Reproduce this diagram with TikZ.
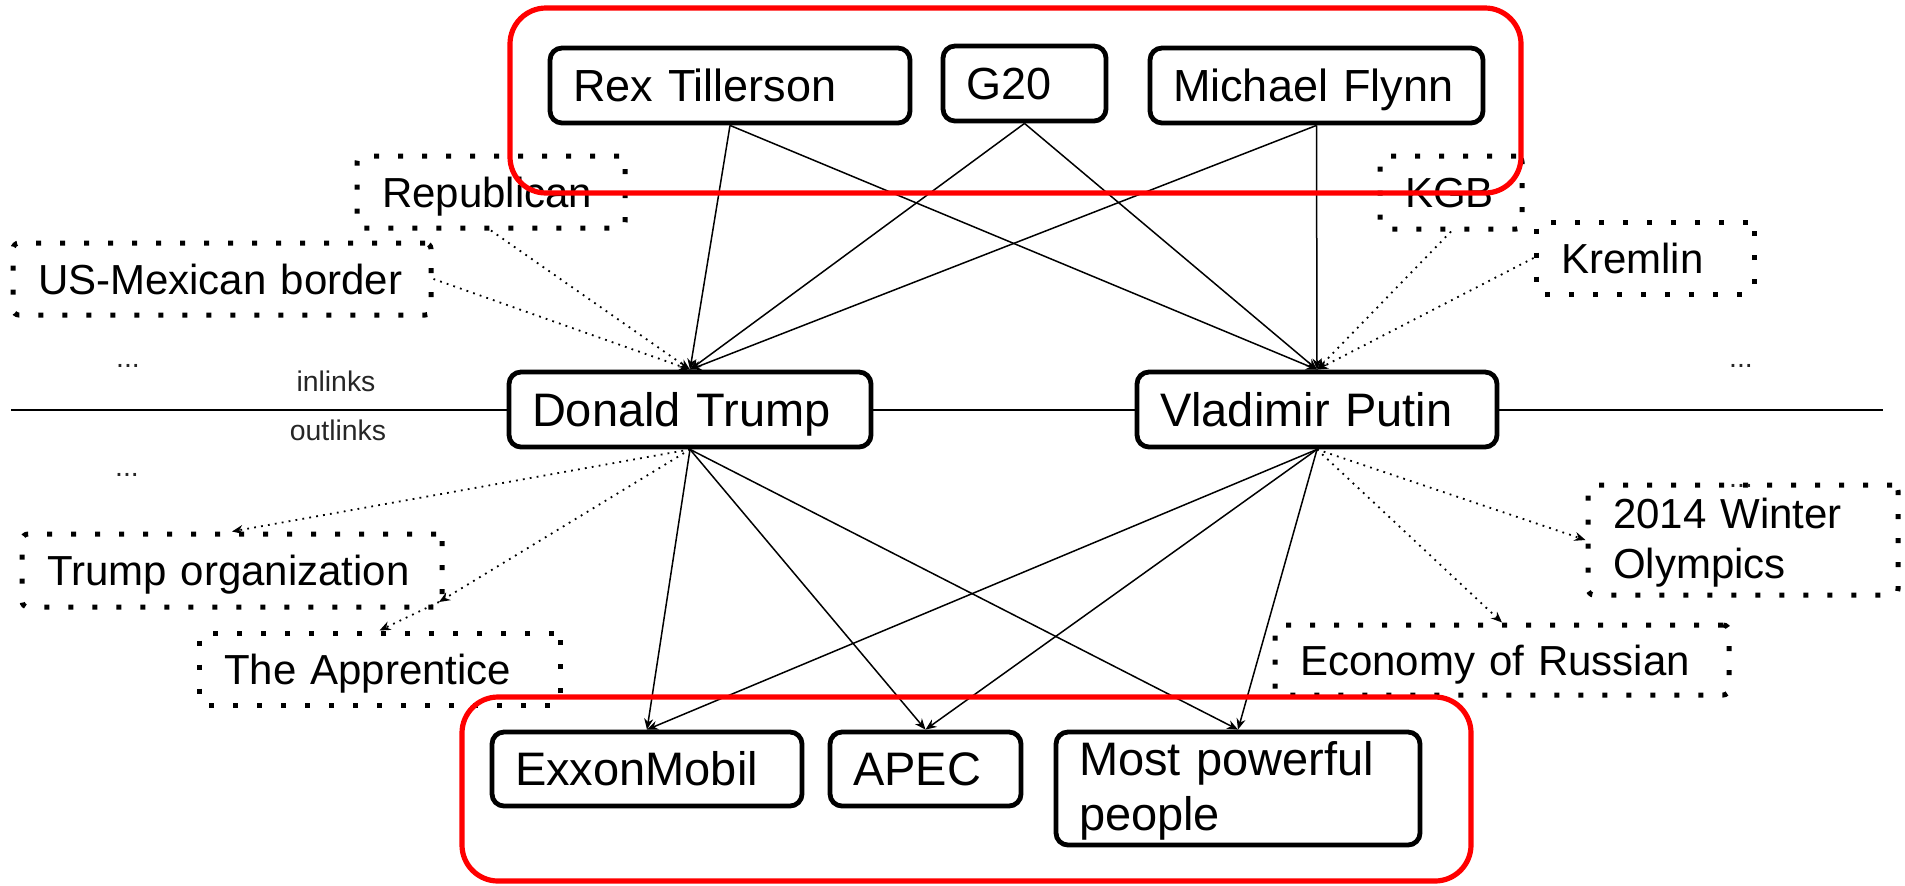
\documentclass[tikz,border=0pt]{standalone}
\usepackage{fontspec}
\setmainfont{Liberation Sans}
\usetikzlibrary{arrows.meta}
\newcommand{\fTop}{\fontsize{22.5pt}{25pt}\selectfont}
\newcommand{\fMain}{\fontsize{23.5pt}{27.5pt}\selectfont}
\newcommand{\fDot}{\fontsize{21pt}{25pt}\selectfont}
\newcommand{\fSmall}{\fontsize{14.2pt}{17pt}\selectfont}
\begin{document}
\begin{tikzpicture}[x=0.5pt,y=-0.5pt,
  entity/.style={draw=black, fill=white, line width=2.4pt, rounded corners=6pt,
    inner xsep=11.5pt, inner ysep=0pt, align=left},
  topent/.style={entity, font=\fTop, text height=16.2pt, text depth=0pt},
  mainent/.style={entity, font=\fMain},
  oneline/.style={text height=16.9pt, text depth=0pt},
  dotent/.style={draw=black, fill=white, line width=2.5pt, dash pattern=on 2.5pt off 9.5pt,
    rounded corners=3pt, inner xsep=12.5pt, inner ysep=0pt, align=left, font=\fDot},
  dotone/.style={dotent, text height=15pt, text depth=0pt},
  small/.style={font=\fSmall, inner sep=0pt, text=black!85},
  redbox/.style={draw=red, line width=2.6pt, rounded corners=18pt, inner sep=0pt},
  link/.style={line width=0.75pt, -{Stealth[length=5.5pt,width=4.5pt]}},
  dlink/.style={line width=0.9pt, dash pattern=on 0.9pt off 2.6pt, -{Stealth[length=5.5pt,width=4.5pt]}},
  hline/.style={line width=1pt}
]
\useasboundingbox (0,0) rectangle (1905,885);

% top row
\node[topent, minimum width=180pt, minimum height=37.5pt, text width=157pt] (rex) at (730,85.5) {Rex Tillerson};
\node[topent, minimum width=81.5pt, minimum height=37.5pt, text width=58.5pt] (g20) at (1024.5,83.5) {G20};
\node[topent, minimum width=166.5pt, minimum height=37.5pt, text width=143.5pt] (flynn) at (1316.5,85.5) {Michael Flynn};

% central
\node[mainent, oneline, minimum width=181pt, minimum height=37.5pt, text width=158pt] (dt) at (690,409.5) {Donald Trump};
\node[mainent, oneline, minimum width=180pt, minimum height=37.5pt, text width=157pt] (vp) at (1317,409.5) {Vladimir Putin};

% bottom row
\node[mainent, oneline, minimum width=155pt, minimum height=37pt, text width=132pt] (exxon) at (647,769) {ExxonMobil};
\node[mainent, oneline, minimum width=95.5pt, minimum height=37pt, text width=72.5pt] (apec) at (925.5,769) {APEC};
\node[mainent, text height=17pt, text depth=30.5pt, minimum width=182pt, minimum height=56.5pt, text width=159pt] (mpp) at (1238,788.5) {Most powerful\\people};

% dotted boxes
\node[dotone, minimum width=134pt, minimum height=36pt, text width=109pt] (rep) at (491,192) {Republican};
\node[dotone, minimum width=209pt, minimum height=36pt, text width=184pt] (usm) at (222,279) {US-Mexican border};
\node[dotone, minimum width=71pt, minimum height=36.5pt, text width=46pt] (kgb) at (1451,192.5) {KGB};
\node[dotone, minimum width=109pt, minimum height=36pt, text width=84pt] (krem) at (1645,258) {Kremlin};
\node[dotone, minimum width=210pt, minimum height=36.5pt, text width=185pt] (torg) at (232,570.5) {Trump organization};
\node[dotone, minimum width=180.5pt, minimum height=36pt, text width=155.5pt] (app) at (379.5,669) {The Apprentice};
\node[dotent, text height=15pt, text depth=27pt, minimum width=155pt, minimum height=55pt, text width=130pt] (wo) at (1743,540) {2014 Winter\\Olympics};
\node[dotone, minimum width=227pt, minimum height=35pt, text width=202pt] (eco) at (1502,660) {Economy of Russian};

% small labels
\node[small, anchor=base] (inl) at (336,391) {inlinks};
\node[small, anchor=base] (outl) at (338,440) {outlinks};
\node[small, anchor=base] (dotsa) at (128,367) {...};
\node[small, anchor=base] (dotsb) at (127,476) {...};
\node[small, anchor=base] (dotsc) at (1741,367) {...};
\node[small, anchor=base] (dotsd) at (1741,487) {...};

% horizontal divider
\coordinate (hl) at (11,409.5);
\coordinate (hr) at (1883,409.5);
\draw[hline] (hl) -- (dt.west) (dt.east) -- (vp.west) (vp.east) -- (hr);

% in-links
\draw[link] (rex.south) -- (dt.north);
\draw[link] (rex.south) -- (vp.north);
\draw[link] (g20.south) -- (dt.north);
\draw[link] (g20.south) -- (vp.north);
\draw[link] (flynn.south) -- (dt.north);
\draw[link] (flynn.south) -- (vp.north);
\draw[dlink] (rep.south) -- (dt.north);
\draw[dlink] (usm.east) -- (dt.north);
\draw[dlink] (kgb.south) -- (vp.north);
\draw[dlink] (krem.west) -- (vp.north);

% out-links
\draw[link] (dt.south) -- (exxon.north);
\draw[link] (dt.south) -- (apec.north);
\draw[link] (dt.south) -- (mpp.north);
\draw[link] (vp.south) -- (exxon.north);
\draw[link] (vp.south) -- (apec.north);
\draw[link] (vp.south) -- (mpp.north);
\coordinate (tcorner) at (439,602);
\draw[dlink] (dt.south) -- (torg.north);
\draw[dlink] (dt.south) -- (tcorner);
\draw[dlink] (tcorner) -- (app.north);
\draw[dlink] (vp.south) -- (wo.west);
\draw[dlink] (vp.south) -- (eco.north);

% red groups
\node[redbox, minimum width=505.5pt, minimum height=92.5pt] (topgrp) at (1015.5,100.5) {};
\node[redbox, minimum width=504.5pt, minimum height=92pt] (botgrp) at (966.5,789) {};
\end{tikzpicture}
\end{document}
